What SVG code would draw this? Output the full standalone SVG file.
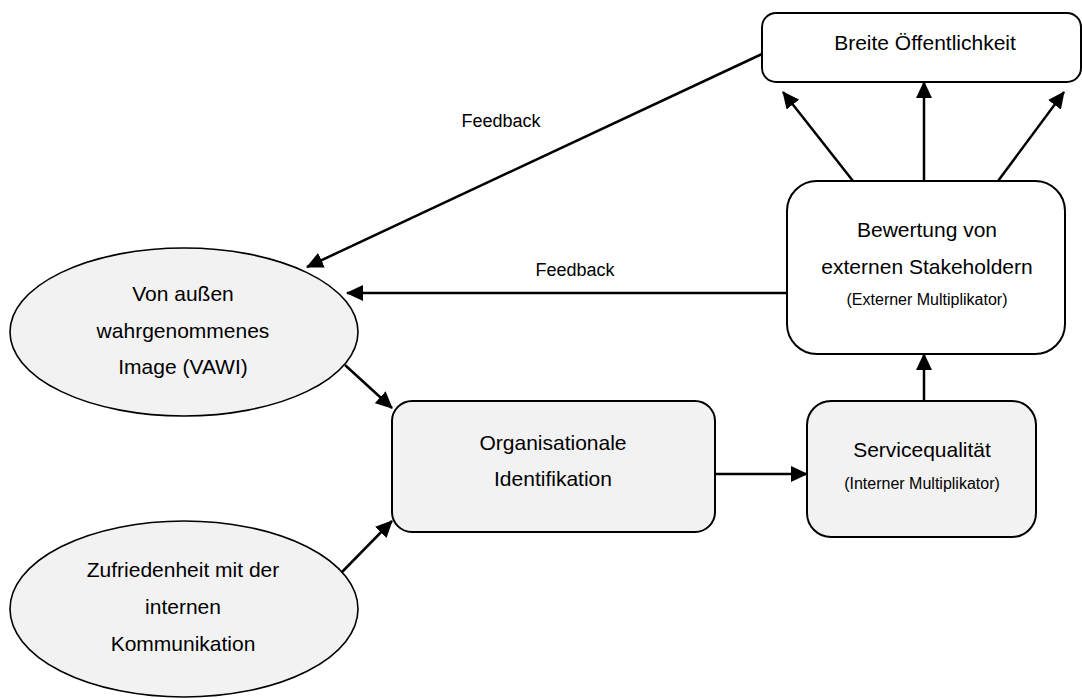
<svg xmlns="http://www.w3.org/2000/svg" width="1082" height="699" viewBox="0 0 1082 699">
  <style>
    .box { stroke: #000; stroke-width: 2; }
    .white { fill: #ffffff; }
    .grey { fill: #f2f2f2; }
    .oval { fill: #f2f2f2; stroke: #000; stroke-width: 1.6; }
    .t { font-family: "Liberation Sans", Arial, sans-serif; font-size: 21px; fill: #000; text-anchor: middle; }
    .s { font-family: "Liberation Sans", Arial, sans-serif; font-size: 16px; fill: #000; text-anchor: middle; }
    .f { font-family: "Liberation Sans", Arial, sans-serif; font-size: 18px; fill: #000; text-anchor: middle; }
    .edge { stroke: #000; stroke-width: 2.5; fill: none; marker-end: url(#arrow); }
  </style>
  <defs>
    <marker id="arrow" viewBox="0 0 17 16" refX="16" refY="8" markerWidth="17" markerHeight="16" markerUnits="userSpaceOnUse" orient="auto">
      <path d="M0,0 L17,8 L0,16 Z" fill="#000"/>
    </marker>
  </defs>

  <rect width="1082" height="699" fill="#ffffff"/>

  <!-- connectors -->
  <g id="connectors">
    <line class="edge" x1="762" y1="54" x2="307" y2="267"/>
    <line class="edge" x1="787" y1="293" x2="347" y2="293"/>
    <line class="edge" x1="345" y1="365" x2="392" y2="408"/>
    <line class="edge" x1="342" y1="572" x2="392" y2="521"/>
    <line class="edge" x1="715" y1="474" x2="807" y2="474"/>
    <line class="edge" x1="924" y1="401" x2="924" y2="354"/>
    <line class="edge" x1="853" y1="181" x2="783" y2="92"/>
    <line class="edge" x1="924" y1="181" x2="924" y2="82"/>
    <line class="edge" x1="998" y1="181" x2="1064" y2="92"/>
    <text class="f" x="501" y="127">Feedback</text>
    <text class="f" x="575" y="276">Feedback</text>
  </g>

  <!-- nodes -->
  <g id="breite-oeffentlichkeit">
    <rect class="box white" x="762" y="13" width="319" height="69" rx="14" ry="14"/>
    <text class="t" x="925" y="50">Breite Öffentlichkeit</text>
  </g>

  <g id="bewertung">
    <rect class="box white" x="787" y="181" width="278" height="173" rx="30" ry="30"/>
    <text class="t" x="927" y="237">Bewertung von</text>
    <text class="t" x="927" y="274">externen Stakeholdern</text>
    <text class="s" x="927" y="305">(Externer Multiplikator)</text>
  </g>

  <g id="vawi">
    <ellipse class="oval" cx="184" cy="332" rx="174" ry="84"/>
    <text class="t" x="183" y="301">Von außen</text>
    <text class="t" x="183" y="338">wahrgenommenes</text>
    <text class="t" x="183" y="374">Image (VAWI)</text>
  </g>

  <g id="zufriedenheit">
    <ellipse class="oval" cx="184" cy="609" rx="174" ry="88"/>
    <text class="t" x="183" y="577">Zufriedenheit mit der</text>
    <text class="t" x="183" y="614">internen</text>
    <text class="t" x="183" y="651">Kommunikation</text>
  </g>

  <g id="identifikation">
    <rect class="box grey" x="392" y="401" width="323" height="131" rx="20" ry="20"/>
    <text class="t" x="553" y="450">Organisationale</text>
    <text class="t" x="553" y="486">Identifikation</text>
  </g>

  <g id="servicequalitaet">
    <rect class="box grey" x="807" y="401" width="229" height="136" rx="24" ry="24"/>
    <text class="t" x="922" y="457">Servicequalität</text>
    <text class="s" x="922" y="489">(Interner Multiplikator)</text>
  </g>
</svg>
